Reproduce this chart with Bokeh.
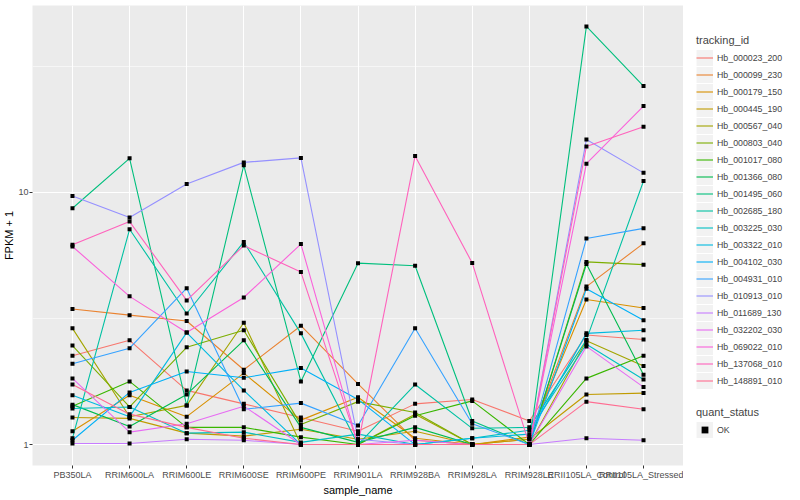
from bokeh.plotting import figure
from bokeh.layouts import row
from bokeh.models import (FactorRange, Range1d, FixedTicker, NumeralTickFormatter,
                          Legend, LegendItem)
from bokeh.embed import file_html
from bokeh.resources import INLINE

samples = ["PB350LA", "RRIM600LA", "RRIM600LE", "RRIM600SE", "RRIM600PE",
           "RRIM901LA", "RRIM928BA", "RRIM928LA", "RRIM928LE",
           "RRII105LA_Control", "RRII105LA_Stressed"]

tracking_ids = ["Hb_000023_200", "Hb_000099_230", "Hb_000179_150", "Hb_000445_190",
                "Hb_000567_040", "Hb_000803_040", "Hb_001017_080", "Hb_001366_080",
                "Hb_001495_060", "Hb_002685_180", "Hb_003225_030", "Hb_003322_010",
                "Hb_004102_030", "Hb_004931_010", "Hb_010913_010", "Hb_011689_130",
                "Hb_032202_030", "Hb_069022_010", "Hb_137068_010", "Hb_148891_010"]

colors = ["#F8766D", "#EA8331", "#D89000", "#C09B00", "#A3A500", "#7CAE00", "#39B600",
          "#00BB4E", "#00BF7D", "#00C1A3", "#00BFC4", "#00BAE0", "#00B0F6", "#35A2FF",
          "#9590FF", "#C77CFF", "#E76BF3", "#FA62DB", "#FF62BC", "#FF6C91"]

quant_status = ["OK"]

# FPKM + 1 per sample (order of `samples`)
Hb_000023_200 = [2.25, 2.59, 1.64, 1.45, 1.28, 1.13, 1.45, 1.51, 1.24, 2.72, 2.61]
Hb_000099_230 = [3.45, 3.26, 3.09, 1.98, 2.96, 1.74, 1.04, 1.00, 1.05, 4.23, 6.28]
Hb_000179_150 = [1.13, 1.57, 1.29, 1.92, 1.25, 1.54, 1.06, 1.00, 1.07, 3.76, 3.48]
Hb_000445_190 = [1.28, 1.27, 1.11, 1.08, 1.15, 1.05, 1.13, 1.00, 1.05, 1.58, 1.60]
Hb_000567_040 = [2.89, 1.29, 1.43, 3.04, 1.00, 1.00, 1.32, 1.00, 1.00, 2.58, 2.05]
Hb_000803_040 = [2.47, 1.41, 2.43, 2.84, 1.20, 1.48, 1.34, 1.00, 1.00, 5.30, 5.17]
Hb_001017_080 = [1.42, 1.78, 1.17, 1.17, 1.07, 1.00, 1.30, 1.49, 1.00, 1.83, 2.25]
Hb_001366_080 = [1.44, 1.18, 1.58, 2.59, 1.17, 1.02, 1.17, 1.00, 1.00, 5.20, 1.89]
Hb_001495_060 = [8.65, 13.65, 1.43, 12.8, 1.78, 5.24, 5.12, 1.24, 1.00, 45.5, 26.4]
Hb_002685_180 = [1.06, 7.14, 3.31, 6.36, 2.76, 1.00, 1.73, 1.16, 1.17, 2.60, 11.1]
Hb_003225_030 = [1.39, 1.41, 1.11, 1.12, 1.02, 1.10, 1.00, 1.06, 1.14, 2.50, 1.81]
Hb_003322_010 = [1.57, 1.29, 2.78, 1.64, 1.00, 1.00, 1.00, 1.06, 1.10, 2.76, 2.84]
Hb_004102_030 = [1.04, 1.61, 1.95, 1.84, 2.01, 1.51, 1.00, 1.00, 1.00, 4.15, 3.11]
Hb_004931_010 = [2.09, 2.41, 4.17, 1.38, 1.46, 1.19, 2.89, 1.21, 1.00, 6.56, 7.20]
Hb_010913_010 = [9.67, 7.95, 10.8, 13.15, 13.7, 1.05, 1.00, 1.00, 1.00, 16.2, 11.95]
Hb_011689_130 = [1.01, 1.01, 1.05, 1.04, 1.00, 1.00, 1.00, 1.00, 1.00, 1.06, 1.04]
Hb_032202_030 = [1.83, 1.12, 1.21, 1.42, 1.00, 1.00, 1.04, 1.00, 1.00, 2.45, 1.69]
Hb_069022_010 = [6.10, 3.87, 2.78, 3.83, 6.24, 1.00, 1.00, 1.00, 1.00, 13.0, 22.0]
Hb_137068_010 = [6.20, 7.66, 3.73, 6.15, 4.83, 1.00, 13.95, 5.25, 1.00, 15.2, 18.2]
Hb_148891_010 = [1.73, 1.32, 1.17, 1.06, 1.00, 1.00, 1.00, 1.00, 1.00, 1.48, 1.38]

series = [Hb_000023_200, Hb_000099_230, Hb_000179_150, Hb_000445_190, Hb_000567_040,
          Hb_000803_040, Hb_001017_080, Hb_001366_080, Hb_001495_060, Hb_002685_180,
          Hb_003225_030, Hb_003322_010, Hb_004102_030, Hb_004931_010, Hb_010913_010,
          Hb_011689_130, Hb_032202_030, Hb_069022_010, Hb_137068_010, Hb_148891_010]

FONT = "Liberation Sans"
H = 498

p = figure(width=683, height=H, output_backend="svg", toolbar_location=None,
           x_range=FactorRange(factors=samples, range_padding=0.2,
                               range_padding_units="absolute"),
           y_axis_type="log", y_range=Range1d(10 ** -0.083, 10 ** 1.741),
           min_border_left=30, min_border_right=0, min_border_top=5,
           min_border_bottom=0)

p.background_fill_color = "#EBEBEB"
p.border_fill_color = "white"
p.outline_line_color = None

p.xgrid.grid_line_color = "white"
p.xgrid.grid_line_width = 1.1
p.ygrid.grid_line_color = "white"
p.ygrid.grid_line_width = 1.1
p.ygrid.minor_grid_line_color = "white"
p.ygrid.minor_grid_line_width = 0.55

p.yaxis.ticker = FixedTicker(ticks=[1, 10], minor_ticks=[10 ** 0.5, 10 ** 1.5])
p.yaxis.formatter = NumeralTickFormatter(format="0")

for ax in (p.xaxis[0], p.yaxis[0]):
    ax.axis_line_color = None
    ax.major_tick_line_color = "#333333"
    ax.major_tick_in = 0
    ax.major_tick_out = 3
    ax.minor_tick_line_color = None
    ax.minor_tick_in = 0
    ax.minor_tick_out = 0
    ax.major_label_text_color = "#4D4D4D"
    ax.major_label_text_font = FONT
    ax.major_label_text_font_size = "9px"
    ax.major_label_standoff = 1
    ax.axis_label_text_font = FONT
    ax.axis_label_text_font_size = "11px"
    ax.axis_label_text_font_style = "normal"
    ax.axis_label_text_color = "black"
    ax.axis_label_standoff = 1

p.yaxis.major_label_standoff = 1
p.yaxis.axis_label_standoff = 0

p.xaxis.axis_label = "sample_name"
p.yaxis.axis_label = "FPKM + 1"

for col, vals in zip(colors, series):
    p.line(x=samples, y=vals, line_color=col, line_width=1.1)

xs = [s for vals in series for s in samples]
ys = [v for vals in series for v in vals]
p.scatter(x=xs, y=ys, marker="square", size=4, fill_color="black", line_color=None)

# legend panel (its frame is aligned with the main plot's frame by the row layout)
q = figure(width=115, height=H, output_backend="svg", toolbar_location=None,
           x_range=Range1d(0, 1), y_range=Range1d(0, 1),
           x_axis_location=None, y_axis_location=None,
           min_border_left=0, min_border_right=0, min_border_top=0, min_border_bottom=0)
q.grid.visible = False
q.outline_line_color = None
q.background_fill_color = "white"
q.border_fill_color = "white"

# off-range samples so that the legend keys are drawn
kx = [5, 6]
ky = [5, 5]
key_bg = q.line(x=kx, y=ky, line_color="#F2F2F2", line_width=16)
items = []
for tid, col in zip(tracking_ids, colors):
    r = q.line(x=kx, y=ky, line_color=col, line_width=1.1)
    items.append(LegendItem(label=tid, renderers=[key_bg, r]))
ok_pt = q.scatter(x=kx, y=ky, marker="square", size=4, fill_color="black", line_color=None)


def style_legend(lg):
    lg.title_text_font = FONT
    lg.title_text_font_size = "11px"
    lg.title_text_font_style = "normal"
    lg.title_standoff = 3
    lg.label_text_font = FONT
    lg.label_text_font_size = "8.8px"
    lg.label_standoff = 4
    lg.glyph_width = 17
    lg.glyph_height = 17
    lg.label_height = 17
    lg.spacing = 0
    lg.padding = 0
    lg.margin = 0
    lg.border_line_color = None
    lg.background_fill_alpha = 0


leg1 = Legend(items=items, title="tracking_id", location=(13, 76))
style_legend(leg1)
leg2 = Legend(items=[LegendItem(label=quant_status[0], renderers=[key_bg, ok_pt])],
              title="quant_status", location=(13, 27))
style_legend(leg2)
q.add_layout(leg1)
q.add_layout(leg2)

layout = row(p, q)
open("out.html", "w").write(file_html(layout, INLINE))
